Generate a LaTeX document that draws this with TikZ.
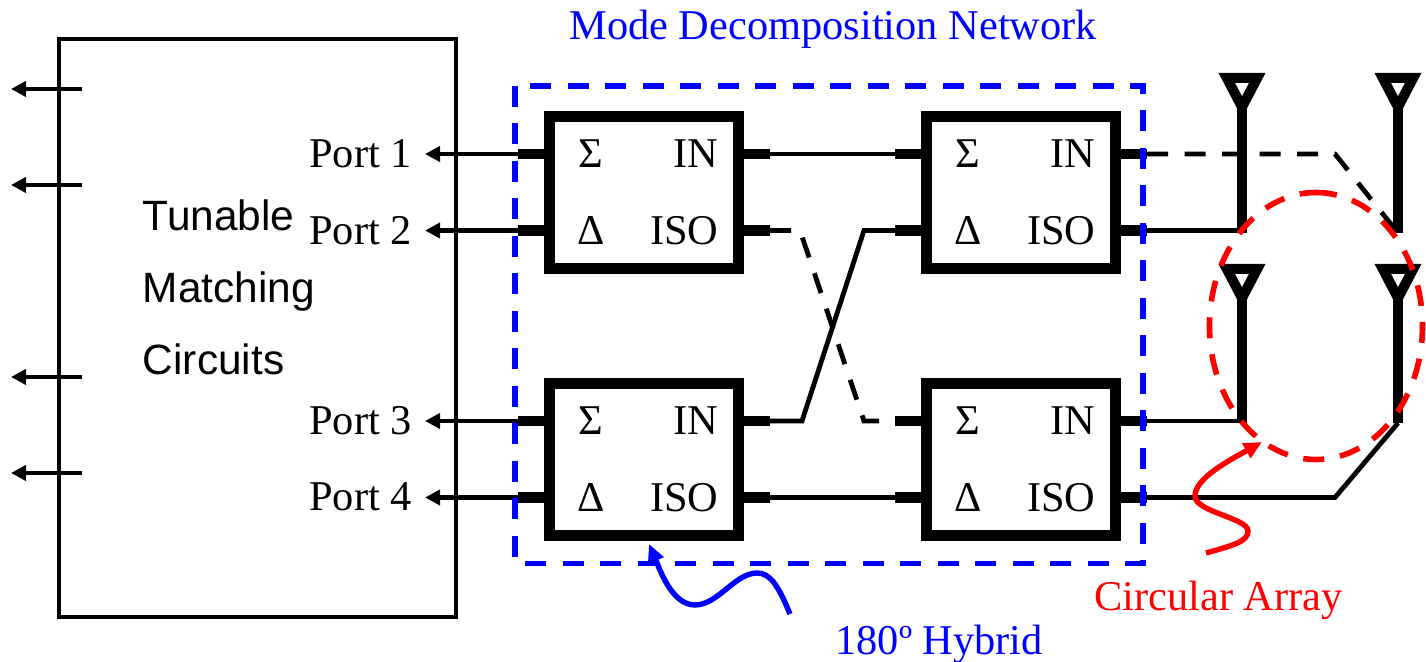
\documentclass[tikz,border=0pt]{standalone}
\usepackage{fontspec}
\setmainfont{Liberation Serif}
\setsansfont{Liberation Sans}
\usetikzlibrary{arrows.meta,positioning}

\begin{document}
\begin{tikzpicture}[
    x=0.5pt,
    y=-0.5pt,
    font=\fontsize{21.2}{24}\selectfont,
    >={Triangle[length=7.5pt,width=7.5pt]},
    hybrid/.style={
      draw,
      line width=5.4pt,
      minimum width=94.5pt,
      minimum height=76pt,
      inner sep=0pt
    },
    stub/.style={line width=5.2pt},
    wire/.style={line width=2.4pt},
    dashwire/.style={wire, dash pattern=on 10.5pt off 8.25pt},
    portline/.style={->, line width=2.4pt},
    mast/.style={line width=5.4pt},
    termlabel/.style={anchor=base, inner sep=0pt},
    portlabel/.style={anchor=base west, inner sep=0pt},
    callout/.style={anchor=base west, inner sep=0pt},
    blueline/.style={draw=blue, line width=2.8pt, dash pattern=on 10.5pt off 8.25pt},
    redline/.style={draw=red, line width=2.8pt, dash pattern=on 10.5pt off 8pt}
  ]
    \useasboundingbox (0,0) rectangle (1426,662);

    \node[draw, line width=2.2pt, minimum width=198.5pt, minimum height=289pt, inner sep=0pt] (tuner) at (257.75,328) {};
    \foreach \name/\y/\word in {tuneA/231/Tunable, tuneB/303/Matching, tuneC/375/Circuits}
      \node[portlabel, font=\sffamily\fontsize{21.2}{24}\selectfont] (\name) at (142.5,\y) {\word};

    \foreach \name/\y in {outA/89, outB/185, outC/377, outD/473} {
      \coordinate (\name) at (82,\y);
      \coordinate (\name-tip) at (11,\y);
      \draw[portline, line width=2.1pt] (\name) -- (\name-tip);
    }

    \foreach \name/\x/\y in {hybA/644/192.5, hybB/1021/192.5, hybC/644/459.5, hybD/1021/459.5} {
      \node[hybrid] (\name) at (\x,\y) {};
      \coordinate (\name-sum) at (\x-126,\y-38.5);
      \coordinate (\name-dif) at (\x-126,\y+38);
      \coordinate (\name-in) at (\x+126,\y-38.5);
      \coordinate (\name-iso) at (\x+126,\y+38);
      \draw[stub] (\name-sum) -- (\name-sum -| \name.west);
      \draw[stub] (\name-dif) -- (\name-dif -| \name.west);
      \draw[stub] (\name-in) -- (\name-in -| \name.east);
      \draw[stub] (\name-iso) -- (\name-iso -| \name.east);
      \node[termlabel] (\name-S) at (\x-53,\y-24.5) {Σ};
      \node[termlabel] (\name-D) at (\x-53,\y+52.5) {Δ};
      \node[termlabel, anchor=base east] (\name-I) at (\x+75,\y-24.5) {IN};
      \node[termlabel, anchor=base east] (\name-O) at (\x+75,\y+52.5) {ISO};
    }

    \coordinate (tipline) at (425,0);
    \foreach \name/\from/\y/\word in {portA/hybA-sum/168/Port 1, portB/hybA-dif/245/Port 2, portC/hybC-sum/435/Port 3, portD/hybC-dif/511/Port 4} {
      \node[portlabel] (\name) at (309,\y) {\word};
      \draw[portline] (\from) -- (tipline |- \from);
    }

    \foreach \name/\x/\y in {antA/1242/78, antB/1398/78, antC/1242/269, antD/1398/269} {
      \coordinate (\name) at (\x,\y+29);
      \draw[mast, line width=5pt, miter limit=10] (\x-15.2,\y) -- (\x+15.2,\y) -- (\name) -- cycle;
    }
    \coordinate (feedA) at (1242,233);
    \coordinate (feedB) at (1398,233);
    \coordinate (feedC) at (1242,423);
    \coordinate (feedD) at (1398,423);
    \draw[mast] (antA) -- (feedA);
    \draw[mast] (antB) -- (feedB);
    \draw[mast] (antC) -- (feedC);
    \draw[mast] (antD) -- (feedD);

    \coordinate (bendA) at (800,230.5);
    \coordinate (bendB) at (864,421);
    \coordinate (bendC) at (802,421);
    \coordinate (bendD) at (864,230.5);
    \coordinate (bendE) at (1335,154);
    \coordinate (bendF) at (1335,497.5);

    \draw[wire] (hybA-in) -- (hybB-sum);
    \draw[wire] (hybC-iso) -- (hybD-dif);
    \draw[wire] (hybC-in) -- (bendC) -- (bendD) -- (hybB-dif);
    \draw[dashwire] (hybA-iso) -- (bendA) -- (bendB) -- (hybD-sum);
    \draw[dashwire] (hybB-in) -- (bendE) -- (feedB);
    \draw[wire] (hybB-iso) -- (hybB-iso -| feedA);
    \draw[wire] (hybD-in) -- (hybD-in -| feedC);
    \draw[wire] (hybD-iso) -- (bendF) -- (feedD);

    \draw[blueline] (515,86) -- (515,563.5) -- (1143,563.5) -- (1143,86) -- cycle;
    \node[callout, text=blue] (networklabel) at (569,40) {Mode Decomposition Network};
    \node[callout, text=blue] (hybridlabel) at (835,655) {180º Hybrid};
    \draw[draw=blue, line width=2.7pt, -{Triangle[length=9pt,width=8pt]}]
      (790,614) .. controls (778,585) and (770,573) .. (757,573)
      .. controls (735,573) and (718,605) .. (695,605)
      .. controls (672,605) and (660,570) .. (649,544);

    \draw[redline] (1316,192.5) arc [start angle=-90, end angle=270, x radius=106.5, y radius=133.5];
    \node[callout, text=red] (arraylabel) at (1094,611) {Circular Array};
    \draw[draw=red, line width=2.7pt, -{Triangle[length=9pt,width=8pt]}]
      (1206,553) .. controls (1235,545) and (1248,541) .. (1248,531)
      .. controls (1248,518) and (1195,512) .. (1195,496)
      .. controls (1195,478) and (1230,460) .. (1262,442);
  \end{tikzpicture}
\end{document}
